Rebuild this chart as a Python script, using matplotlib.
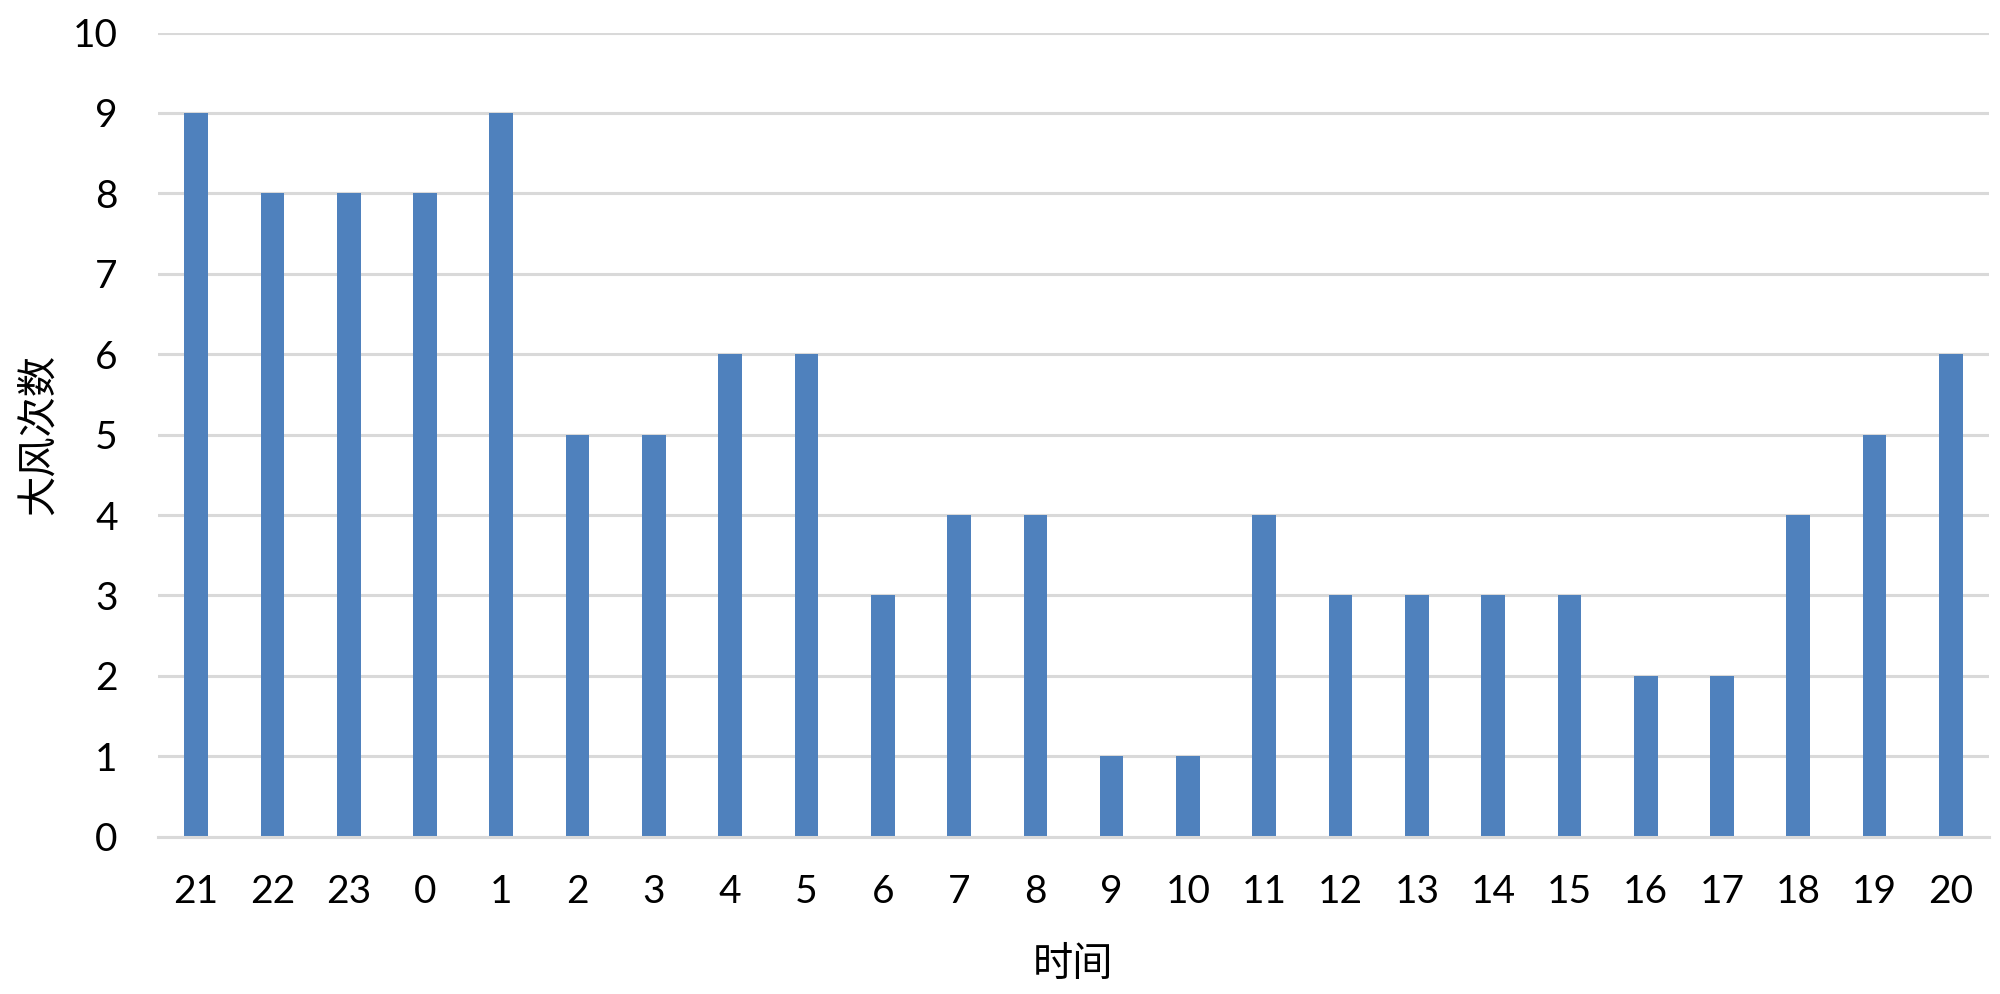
import matplotlib
matplotlib.use("Agg")
import matplotlib.pyplot as plt

hours = ["21", "22", "23", "0", "1", "2", "3", "4", "5", "6", "7", "8",
         "9", "10", "11", "12", "13", "14", "15", "16", "17", "18", "19", "20"]
counts = [9, 8, 8, 8, 9, 5, 5, 6, 6, 3, 4, 4, 1, 1, 4, 3, 3, 3, 3, 2, 2, 4, 5, 6]
yticks = list(range(0, 11))

plt.rcParams['font.family'] = ['Lato', 'Noto Sans CJK SC', 'DejaVu Sans']

fig = plt.figure(figsize=(20, 9.94), dpi=100)
ax = fig.add_axes([0.079, 0.1582, 0.9155, 0.8091])

x = list(range(len(hours)))
ax.bar(x, counts, width=0.31, color="#4F81BD", zorder=3)

ax.set_xlim(-0.5, len(hours) - 0.5)
ax.set_ylim(0, 10)
ax.set_yticks(yticks)
ax.set_xticks(x)
ax.set_xticklabels(hours)

ax.grid(axis="y", color="#D9D9D9", linewidth=2.2, zorder=0)
ax.set_axisbelow(True)
for s in ["top", "right", "left"]:
    ax.spines[s].set_visible(False)
ax.spines["bottom"].set_color("#D9D9D9")
ax.spines["bottom"].set_linewidth(2.2)
ax.spines["bottom"].set_zorder(4)

ax.tick_params(axis="both", length=0, labelsize=28, colors="black")
ax.tick_params(axis="y", pad=29)
ax.tick_params(axis="x", pad=27)

ax.set_xlabel("时间", fontsize=29, family=['Noto Sans CJK SC'], labelpad=24)
ax.set_ylabel("大风次数", fontsize=29, family=['Noto Sans CJK SC'], labelpad=10)

fig.savefig("out.png", dpi=100, facecolor="white")
